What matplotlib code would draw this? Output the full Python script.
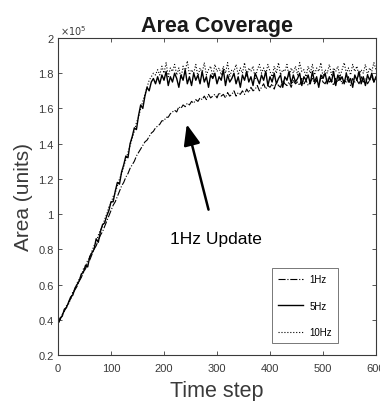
import numpy as np
import matplotlib
matplotlib.use('Agg')
from matplotlib import pyplot as plt

plt.rcParams['font.family'] = ['Liberation Sans', 'DejaVu Sans']

# values in units of 1e5, one sample every 4 time steps
step = 4

rise_5hz = [0.38, 0.41, 0.42, 0.46, 0.47, 0.50, 0.53, 0.54, 0.58, 0.60,
            0.62, 0.66, 0.67, 0.71, 0.70, 0.76, 0.78, 0.80, 0.86, 0.84,
            0.90, 0.94, 0.95, 0.99, 1.02, 1.07, 1.07, 1.13, 1.18, 1.17,
            1.24, 1.28, 1.33, 1.32, 1.40, 1.44, 1.49, 1.48, 1.56, 1.62,
            1.60, 1.67, 1.72, 1.70, 1.75, 1.77, 1.74]
flat_5hz = [1.78, 1.74, 1.79, 1.76, 1.81, 1.73, 1.78, 1.75, 1.80, 1.77,
            1.72, 1.79, 1.76, 1.82, 1.74, 1.78, 1.73, 1.80, 1.76, 1.79,
            1.74, 1.81, 1.75, 1.78, 1.72, 1.79, 1.77, 1.80, 1.74, 1.78,
            1.76, 1.82, 1.73, 1.79, 1.75, 1.77, 1.80, 1.74, 1.78, 1.72,
            1.79, 1.76, 1.81, 1.75, 1.78, 1.73, 1.80, 1.77, 1.74, 1.79,
            1.76, 1.81, 1.73, 1.78, 1.75, 1.80, 1.74, 1.77, 1.79, 1.72,
            1.78, 1.76, 1.81, 1.74, 1.79, 1.75, 1.77, 1.80, 1.73, 1.78,
            1.76, 1.79, 1.74, 1.81, 1.75, 1.78, 1.72, 1.79, 1.77, 1.80,
            1.74, 1.78, 1.75, 1.81, 1.73, 1.79, 1.76, 1.78, 1.74, 1.80,
            1.75, 1.77, 1.72, 1.79, 1.76, 1.81, 1.74, 1.78, 1.73, 1.79,
            1.76, 1.80, 1.75, 1.78]

rise_10hz = [0.37, 0.40, 0.43, 0.45, 0.48, 0.49, 0.52, 0.56, 0.57, 0.61,
             0.63, 0.65, 0.69, 0.70, 0.74, 0.75, 0.79, 0.82, 0.84, 0.88,
             0.91, 0.93, 0.97, 1.00, 1.04, 1.06, 1.10, 1.12, 1.16, 1.20,
             1.23, 1.27, 1.31, 1.35, 1.39, 1.43, 1.47, 1.52, 1.55, 1.60,
             1.64, 1.68, 1.72, 1.76, 1.78, 1.80, 1.79]
flat_10hz = [1.82, 1.79, 1.84, 1.80, 1.86, 1.78, 1.83, 1.81, 1.85, 1.79,
             1.83, 1.77, 1.84, 1.81, 1.87, 1.79, 1.82, 1.80, 1.85, 1.78,
             1.83, 1.80, 1.86, 1.79, 1.82, 1.84, 1.78, 1.85, 1.81, 1.83,
             1.79, 1.84, 1.80, 1.86, 1.78, 1.82, 1.81, 1.85, 1.79, 1.83,
             1.80, 1.86, 1.78, 1.83, 1.81, 1.84, 1.77, 1.82, 1.85, 1.80,
             1.83, 1.79, 1.85, 1.81, 1.78, 1.84, 1.80, 1.86, 1.79, 1.82,
             1.81, 1.85, 1.78, 1.83, 1.80, 1.84, 1.79, 1.86, 1.81, 1.82,
             1.78, 1.84, 1.80, 1.85, 1.79, 1.83, 1.81, 1.86, 1.78, 1.82,
             1.80, 1.85, 1.79, 1.83, 1.81, 1.84, 1.78, 1.82, 1.86, 1.80,
             1.83, 1.79, 1.85, 1.81, 1.84, 1.78, 1.82, 1.80, 1.85, 1.79,
             1.83, 1.81, 1.86, 1.82]

area_1hz = [0.38, 0.40, 0.43, 0.45, 0.47, 0.50, 0.52, 0.55, 0.57, 0.59,
            0.62, 0.64, 0.67, 0.69, 0.72, 0.74, 0.77, 0.80, 0.82, 0.85,
            0.88, 0.90, 0.93, 0.96, 0.99, 1.02, 1.05, 1.07, 1.10, 1.13,
            1.16, 1.18, 1.21, 1.23, 1.26, 1.28, 1.30, 1.33, 1.35, 1.37,
            1.39, 1.41, 1.42, 1.44, 1.46, 1.47, 1.49, 1.50, 1.51, 1.53,
            1.53, 1.55, 1.55, 1.57, 1.58, 1.59, 1.58, 1.61, 1.60, 1.62,
            1.61, 1.63, 1.62, 1.64, 1.63, 1.65, 1.64, 1.66, 1.65, 1.67,
            1.65, 1.68, 1.66, 1.67, 1.68, 1.66, 1.69, 1.67, 1.68, 1.66,
            1.69, 1.67, 1.68, 1.70, 1.67, 1.69, 1.68, 1.70, 1.68, 1.71,
            1.69, 1.72, 1.70, 1.71, 1.73, 1.70, 1.72, 1.74, 1.71, 1.73,
            1.72, 1.74, 1.71, 1.75, 1.73, 1.72, 1.76, 1.74, 1.73, 1.75,
            1.72, 1.76, 1.74, 1.75, 1.73, 1.77, 1.74, 1.76, 1.73, 1.75,
            1.77, 1.74, 1.76, 1.73, 1.78, 1.75, 1.74, 1.77, 1.75, 1.76,
            1.73, 1.77, 1.75, 1.78, 1.74, 1.76, 1.75, 1.78, 1.73, 1.77,
            1.75, 1.76, 1.74, 1.78, 1.75, 1.77, 1.74, 1.76, 1.78, 1.75,
            1.77]

area_5hz = np.array(rise_5hz + flat_5hz)
area_10hz = np.array(rise_10hz + flat_10hz)
area_1hz = np.array(area_1hz)

xticks = [0, 100, 200, 300, 400, 500, 600]
yticks = [0.2, 0.4, 0.6, 0.8, 1, 1.2, 1.4, 1.6, 1.8, 2]
ytick_labels = ['0.2', '0.4', '0.6', '0.8', '1', '1.2', '1.4', '1.6', '1.8', '2']

gray = '#3a3a3a'

fig = plt.figure(figsize=(3.8, 4.02), dpi=100)
ax = fig.add_axes([58 / 380, 1 - 356 / 402, 318 / 380, 317 / 402])

ax.plot(np.arange(len(area_1hz)) * step, area_1hz, color='k', ls='-.', lw=0.8, label='1Hz')
ax.plot(np.arange(len(area_5hz)) * step, area_5hz, color='k', ls='-', lw=1.0, label='5Hz')
ax.plot(np.arange(len(area_10hz)) * step, area_10hz, color='k', ls=':', lw=0.8, label='10Hz')

ax.set_xlim(0, 600)
ax.set_ylim(0.2, 2)
ax.set_xticks(xticks)
ax.set_yticks(yticks)
ax.set_yticklabels(ytick_labels)
ax.tick_params(direction='in', top=True, right=True, length=3, width=0.6,
               labelsize=8, colors=gray, labelcolor=gray)
ax.tick_params(axis='x', pad=6)
ax.tick_params(axis='y', pad=3)
for s in ax.spines.values():
    s.set_color(gray)
    s.set_linewidth(0.8)

ax.text(0.005, 1.004, r'$\times10^5$', transform=ax.transAxes, fontsize=7,
        color=gray, ha='left', va='bottom')

ax.set_title('Area Coverage', fontsize=15.5, fontweight='bold', color='#1a1a1a', pad=5)
ax.set_xlabel('Time step', fontsize=15.5, color=gray, labelpad=5)
ax.set_ylabel('Area (units)', fontsize=15, color=gray, labelpad=4)

ax.annotate('1Hz Update', xy=(243, 1.51), xytext=(298, 0.86),
            fontsize=12.5, ha='center', va='center', color='k',
            arrowprops=dict(arrowstyle='-|>,head_length=1.0,head_width=0.4',
                            color='k', lw=1.8, shrinkA=14, shrinkB=0))

leg = ax.legend(loc='upper right', bbox_to_anchor=(0.88, 0.274), fontsize=7,
                frameon=True, fancybox=False, edgecolor=gray, handlelength=2.5,
                labelspacing=1.7, borderpad=0.6, handletextpad=0.7,
                borderaxespad=0)
leg.get_frame().set_linewidth(0.6)

fig.savefig('out.png', dpi=100)
